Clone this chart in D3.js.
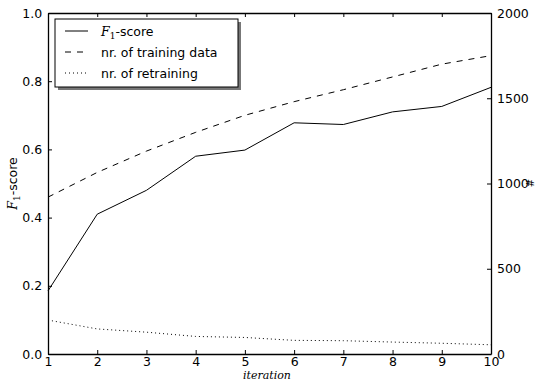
<!DOCTYPE html>
<html><head><meta charset="utf-8">
<script src="https://cdn.jsdelivr.net/npm/d3@7"></script>
<style>body{margin:0;background:#fff}svg{display:block}text{font-family:"DejaVu Sans",sans-serif;fill:#000}</style>
</head><body>
<svg id="c" width="539" height="381"></svg>
<script>
const iterations = [1,2,3,4,5,6,7,8,9,10];
const f1Score = [0.185,0.41,0.48,0.58,0.598,0.678,0.673,0.71,0.726,0.782];
const trainingData = [920,1065,1190,1300,1400,1480,1550,1625,1700,1750];
const retraining = [199,147,128,103,97,80,78,70,63,54];
const leftTicks = [0.0,0.2,0.4,0.6,0.8,1.0];
const rightTicks = [0,500,1000,1500,2000];
const legendLabels = ["-score","nr. of training data","nr. of retraining"];

const svg = d3.select("#c");
const L=48, R=491, T=13, B=354;
const x = d3.scaleLinear().domain([1,10]).range([L,R]);
const yL = d3.scaleLinear().domain([0,1]).range([B,T]);
const yR = d3.scaleLinear().domain([0,2000]).range([B,T]);

const g = svg.append("g");
const fs = 12.5;
const axB = d3.axisBottom(x).tickValues(iterations).tickFormat(d3.format("d")).tickSizeInner(-4).tickSizeOuter(0).tickPadding(3);
const axT = d3.axisTop(x).tickValues(iterations).tickFormat("").tickSizeInner(-4).tickSizeOuter(0);
const axLf = d3.axisLeft(yL).tickValues(leftTicks).tickFormat(d3.format(".1f")).tickSizeInner(-4).tickSizeOuter(0).tickPadding(7);
const axRt = d3.axisRight(yR).tickValues(rightTicks).tickFormat(d3.format("d")).tickSizeInner(-4).tickSizeOuter(0).tickPadding(6);
function style(sel){sel.selectAll("path").attr("stroke","#000").attr("stroke-width",1.3);sel.selectAll("line").attr("stroke","#000").attr("stroke-width",1);sel.selectAll("text").style("font-size",fs+"px").attr("fill","#000");}
g.append("g").attr("transform",`translate(0,${B})`).call(axB).call(style);
g.append("g").attr("transform",`translate(0,${T})`).call(axT).call(style);
g.append("g").attr("transform",`translate(${L},0)`).call(axLf).call(style).selectAll("text").attr("dx","0.1em");
g.append("g").attr("transform",`translate(${R},0)`).call(axRt).call(style);

const lf = d3.line().x((d,i)=>x(iterations[i])).y(d=>yL(d));
const lr = d3.line().x((d,i)=>x(iterations[i])).y(d=>yR(d));
g.append("path").attr("d",lf(f1Score)).attr("fill","none").attr("stroke","#000").attr("stroke-width",1);
g.append("path").attr("d",lr(trainingData)).attr("fill","none").attr("stroke","#000").attr("stroke-width",1).attr("stroke-dasharray","6,6");
g.append("path").attr("d",lr(retraining)).attr("fill","none").attr("stroke","#000").attr("stroke-width",1).attr("stroke-dasharray","1,3");

svg.append("text").attr("x",267).attr("y",378.5).attr("text-anchor","middle").style("font-family","'DejaVu Serif',serif").style("font-style","italic").style("font-size","11px").text("iteration");
const yl = svg.append("text").attr("transform",`translate(17,${(T+B)/2}) rotate(-90)`).attr("text-anchor","middle").style("font-size",fs+"px");
yl.append("tspan").style("font-family","'DejaVu Serif',serif").style("font-style","italic").text("F");
yl.append("tspan").attr("dy",3).style("font-size","9px").style("font-family","'DejaVu Serif',serif").text("1");
yl.append("tspan").attr("dy",-3).text("-score");
svg.append("text").attr("transform",`translate(534,183) rotate(-90)`).attr("text-anchor","middle").style("font-size","10px").text("#");

const lg = svg.append("g");
lg.append("rect").attr("x",58).attr("y",22).attr("width",183).attr("height",68).attr("fill","#777");
lg.append("rect").attr("x",55).attr("y",19).attr("width",183).attr("height",68).attr("fill","#fff").attr("stroke","#000").attr("stroke-width",1);
const dashes=[null,"6,6","1,3"];
legendLabels.forEach((t,i)=>{
  const yy = 31+i*21;
  lg.append("line").attr("x1",65).attr("x2",88).attr("y1",yy).attr("y2",yy).attr("stroke","#000").attr("stroke-width",1).attr("stroke-dasharray",dashes[i]);
  const tx = lg.append("text").attr("x",101).attr("y",yy).attr("dy","0.36em").style("font-size",fs+"px");
  if(i===0){
    tx.append("tspan").style("font-family","'DejaVu Serif',serif").style("font-style","italic").text("F");
    tx.append("tspan").attr("dy",3).style("font-size","9px").style("font-family","'DejaVu Serif',serif").text("1");
    tx.append("tspan").attr("dy",-3).text(t);
  } else tx.text(t);
});
</script>
</body></html>
